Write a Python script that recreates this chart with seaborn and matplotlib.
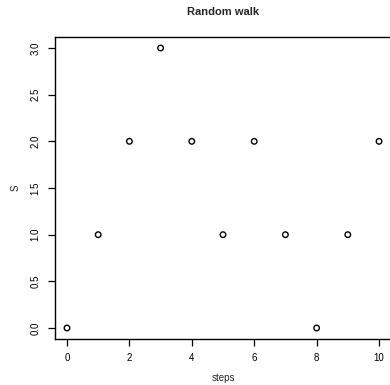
import matplotlib
matplotlib.use("Agg")
import matplotlib.pyplot as plt
import seaborn as sns
import pandas as pd

steps = [0, 1, 2, 3, 4, 5, 6, 7, 8, 9, 10]
S = [0, 1, 2, 3, 2, 1, 2, 1, 0, 1, 2]
x_ticks = [0, 2, 4, 6, 8, 10]
y_ticks = [0.0, 0.5, 1.0, 1.5, 2.0, 2.5, 3.0]

sns.set_style("white")
plt.rcParams["font.family"] = ["Liberation Sans", "DejaVu Sans"]

df = pd.DataFrame({"steps": steps, "S": S})

fig = plt.figure(figsize=(3.9, 3.85), dpi=100)
ax = fig.add_axes([54.5 / 390, (385 - 339.2) / 385, 337 / 390, 302.4 / 385])

sns.scatterplot(data=df, x="steps", y="S", ax=ax, marker="o", s=16,
                facecolor="none", edgecolor="black", linewidth=1.0)

ax.set_xlim(-0.4, 10.4)
ax.set_ylim(-0.12, 3.12)
ax.set_xticks(x_ticks)
ax.set_xticklabels([str(t) for t in x_ticks])
ax.set_yticks(y_ticks)
ax.set_yticklabels([f"{t:.1f}" for t in y_ticks], rotation=90, va="center")
ax.tick_params(axis="both", direction="out", length=5, width=0.9,
               labelsize=7, color="black", labelcolor="black",
               bottom=True, left=True)
ax.tick_params(axis="x", pad=5)
ax.tick_params(axis="y", pad=5)
for sp in ax.spines.values():
    sp.set_color("black")
    sp.set_linewidth(1.0)

ax.set_xlabel("steps", fontsize=7, labelpad=7)
ax.set_ylabel("S", fontsize=7, labelpad=7)
ax.set_title("Random walk", fontsize=8, fontweight="bold", pad=16)

fig.savefig("out.png", dpi=100)
